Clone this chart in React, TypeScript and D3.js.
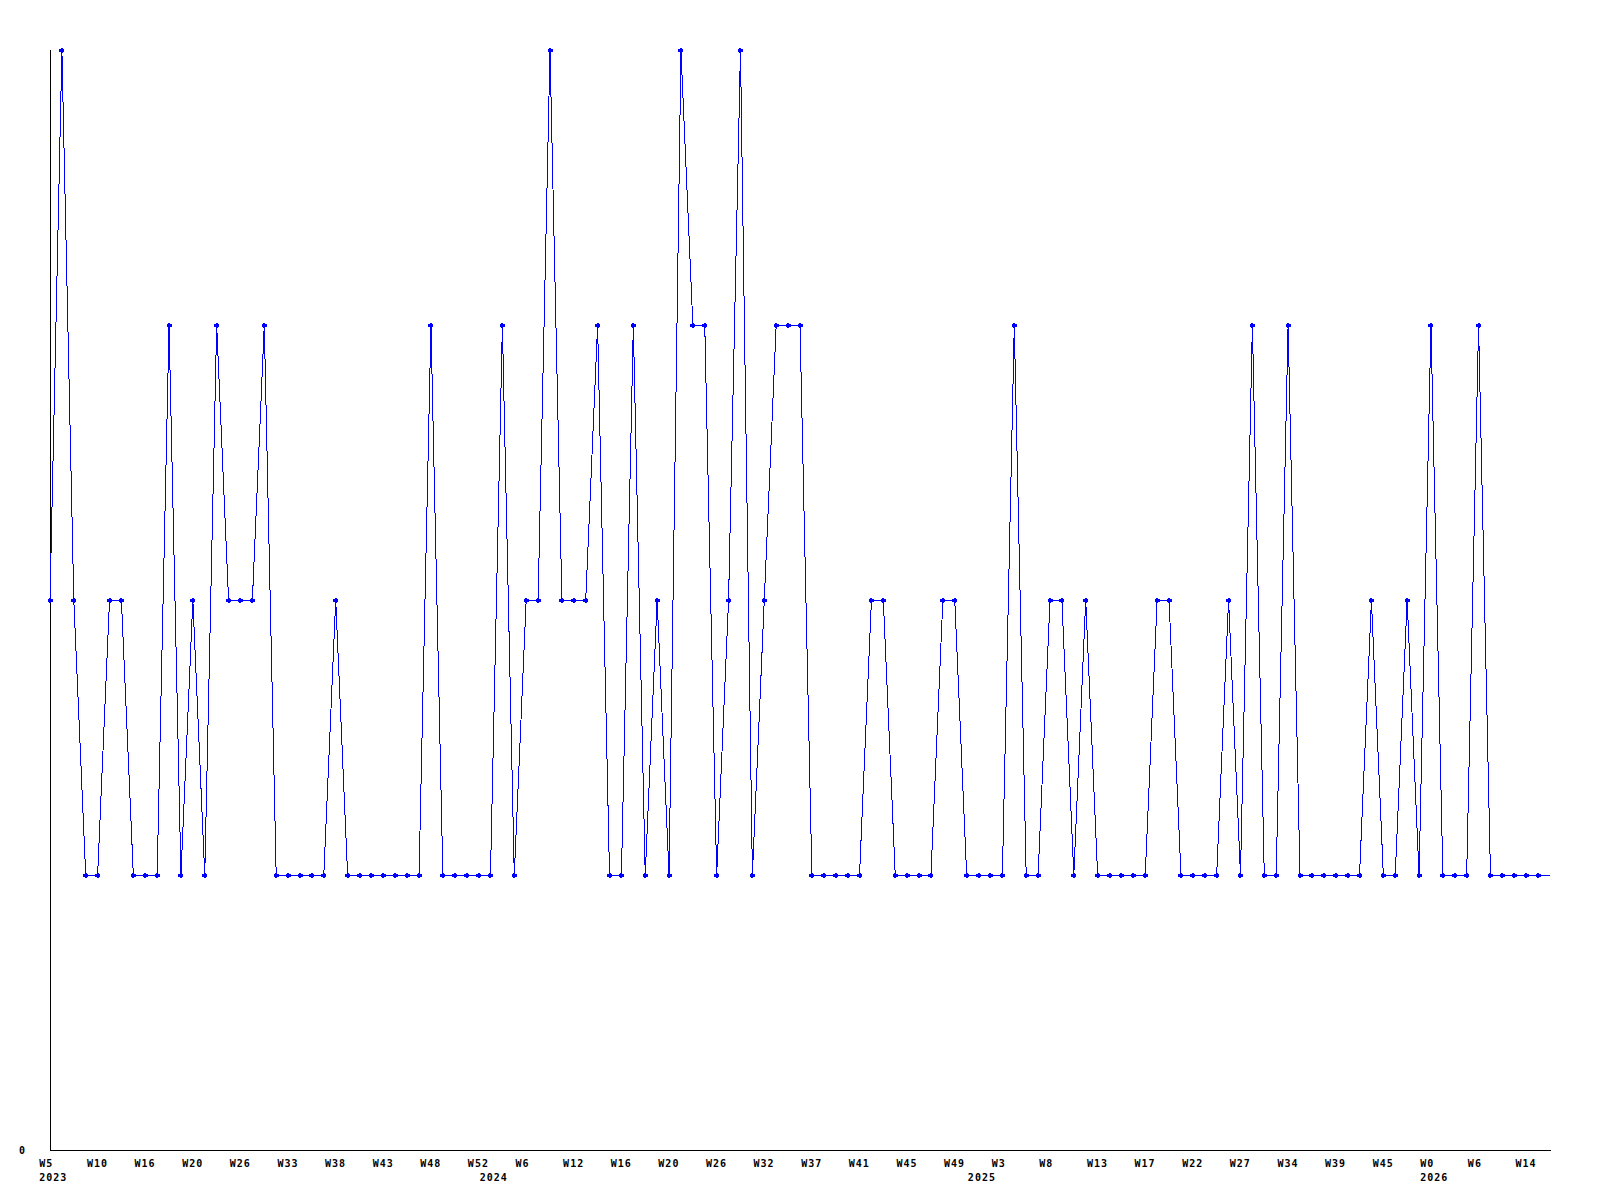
import React from "react";
import * as d3 from "d3";

// Weekly values (index order). The last value is the running period (drawn without marker).
const values: number[] = [
  2, 4, 2, 1, 1, 2, 2, 1, 1, 1,
  3, 1, 2, 1, 3, 2, 2, 2, 3, 1,
  1, 1, 1, 1, 2, 1, 1, 1, 1, 1,
  1, 1, 3, 1, 1, 1, 1, 1, 3, 1,
  2, 2, 4, 2, 2, 2, 3, 1, 1, 3,
  1, 2, 1, 4, 3, 3, 1, 2, 4, 1,
  2, 3, 3, 3, 1, 1, 1, 1, 1, 2,
  2, 1, 1, 1, 1, 2, 2, 1, 1, 1,
  1, 3, 1, 1, 2, 2, 1, 2, 1, 1,
  1, 1, 1, 2, 2, 1, 1, 1, 1, 2,
  1, 3, 1, 1, 3, 1, 1, 1, 1, 1,
  1, 2, 1, 1, 2, 1, 3, 1, 1, 1,
  3, 1, 1, 1, 1, 1, 1,
];

const weekLabels: string[] = [
  "W5", "W10", "W16", "W20", "W26", "W33", "W38", "W43", "W48", "W52",
  "W6", "W12", "W16", "W20", "W26", "W32", "W37", "W41", "W45", "W49",
  "W3", "W8", "W13", "W17", "W22", "W27", "W34", "W39", "W45", "W0",
  "W6", "W14",
];
const weekLabelStep = 4;

const yearLabels: string[] = ["2023", "2024", "2025", "2026"];
const yearIndices: number[] = [0, 37, 78, 116];

const yMax = 4;

export default function App() {
  const W = 1600;
  const H = 1200;
  const left = 50;
  const right = 1550;
  const top = 50;
  const bottom = 1150;

  const n = values.length;
  const x = d3.scaleLinear().domain([0, n - 1]).range([left, right]);
  const y = d3.scaleLinear().domain([0, yMax]).range([bottom, top]);

  const line = d3
    .line<number>()
    .x((_, i) => x(i))
    .y((d) => y(d));

  const font = "'DejaVu Sans Mono', 'Liberation Mono', monospace";
  const fs = 10;
  const ls = 1;
  const markerPath = "M-1,-2.5h2v1h1.5v3h-1.5v1h-2v-1h-1.5v-3h1.5z";

  return (
    <svg
      width={W}
      height={H}
      style={{ position: "absolute", left: 0, top: 0, background: "#fff" }}
    >
      <rect x={0} y={0} width={W} height={H} fill="#fff" />
      {/* axes */}
      <line x1={left + 0.5} y1={top} x2={left + 0.5} y2={bottom + 0.5} stroke="#000" strokeWidth={1} shapeRendering="crispEdges" />
      <line x1={left} y1={bottom + 0.5} x2={right + 1} y2={bottom + 0.5} stroke="#000" strokeWidth={1} shapeRendering="crispEdges" />
      {/* y label */}
      <text x={19} y={1154} fontFamily={font} fontWeight="bold" fontSize={fs} fill="#000">
        0
      </text>
      {/* x week labels */}
      {weekLabels.map((lab, k) => (
        <text
          key={"w" + k}
          x={x(k * weekLabelStep) - 10.7}
          y={1167}
          fontFamily={font}
          fontWeight="bold"
          fontSize={fs}
          letterSpacing={ls}
          fill="#000"
        >
          {lab}
        </text>
      ))}
      {yearLabels.map((lab, k) => (
        <text
          key={"y" + k}
          x={x(yearIndices[k]) - 10.7}
          y={1181}
          fontFamily={font}
          fontWeight="bold"
          fontSize={fs}
          letterSpacing={ls}
          fill="#000"
        >
          {lab}
        </text>
      ))}
      {/* data line */}
      <path d={line(values) || ""} fill="none" stroke="#0000ff" strokeWidth={1} shapeRendering="crispEdges" />
      {values.slice(0, n - 1).map((v, i) => (
        <path
          key={"m" + i}
          d={markerPath}
          transform={`translate(${x(i)},${y(v)})`}
          fill="#0000ff"
          shapeRendering="crispEdges"
        />
      ))}
    </svg>
  );
}
